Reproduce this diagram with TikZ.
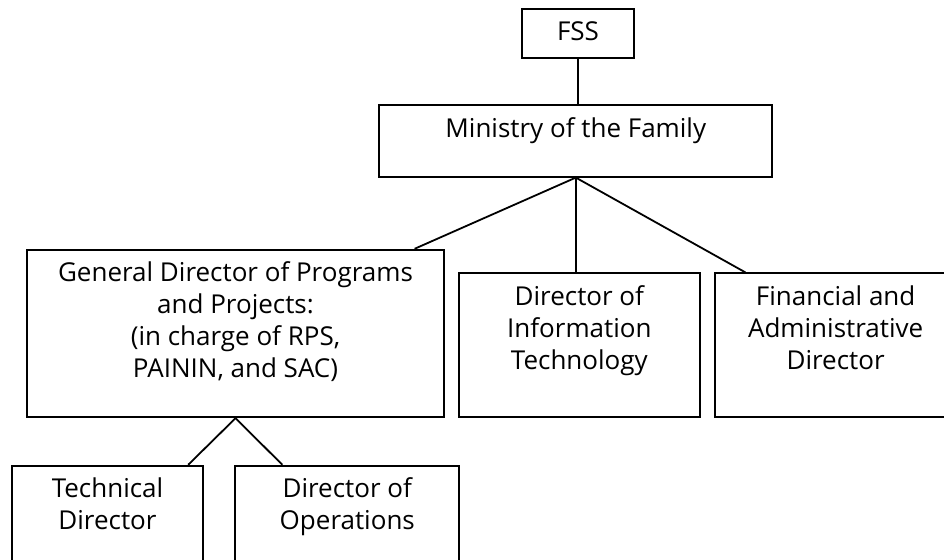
\documentclass[tikz,border=0pt]{standalone}
\usepackage{fontspec}
\setmainfont{Open Sans}
\usepackage{tikz}

\tikzset{
    unit/.style={draw, line width=1.8pt, inner sep=0pt},
    txt/.style={anchor=north, align=center, inner sep=0pt, yshift=-13pt,
        font=\fontsize{26}{32}\selectfont},
    link/.style={line width=1.8pt}
}

\begin{document}
\begin{tikzpicture}[x=1pt,y=-1pt]
    \clip (0,0) rectangle (944,559);
    \node[unit, minimum width=112.6pt, minimum height=48.4pt, label={[txt]north:FSS}] (fss) at (578,33.5) {};
    \node[unit, minimum width=393pt, minimum height=71.4pt, label={[txt]north:Ministry of the Family}] (min) at (575.8,141) {};
    \node[unit, minimum width=416.4pt, minimum height=167.6pt, label={[txt]north:General Director of Programs\\and Projects:\\(in charge of RPS,\\PAININ, and SAC)}] (gd) at (235.5,333.5) {};
    \node[unit, minimum width=240.7pt, minimum height=143.4pt, label={[txt]north:Director of\\Information\\Technology}] (dit) at (579.35,345) {};
    \node[unit, minimum width=240.7pt, minimum height=143.4pt, label={[txt]north:Financial and\\Administrative\\Director}] (fa) at (835.65,345) {};
    \node[unit, minimum width=191.6pt, minimum height=120pt, label={[txt]north:Technical\\Director}] (td) at (107.5,525.7) {};
    \node[unit, minimum width=224pt, minimum height=120pt, label={[txt]north:Director of\\Operations}] (do) at (347.3,525.7) {};
    \coordinate (hub) at (min.south);
    \draw[link] (fss.south) -- (fss.south |- min.north);
    \draw[link] (hub) -- ([xshift=-30pt]gd.north east);
    \draw[link] (hub) -- (hub |- dit.north);
    \draw[link] (hub) -- ([xshift=31pt]fa.north west);
    \draw[link] (gd.south) -- ([xshift=-16pt]td.north east);
    \draw[link] (gd.south) -- ([xshift=48pt]do.north west);
\end{tikzpicture}
\end{document}
